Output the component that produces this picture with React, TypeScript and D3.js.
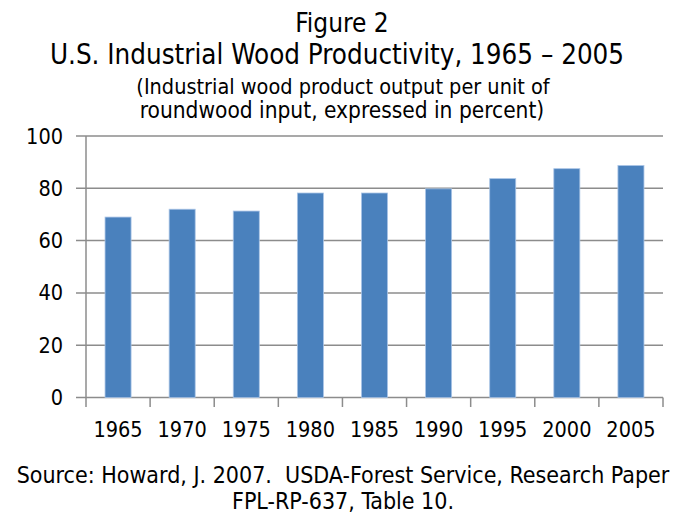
import React from "react";
import * as d3 from "d3";

const years = ["1965", "1970", "1975", "1980", "1985", "1990", "1995", "2000", "2005"];
const productivity = [69, 72, 71.3, 78.2, 78.2, 79.8, 83.7, 87.5, 88.7];
const yTicks = [0, 20, 40, 60, 80, 100];
const titleLines = ["Figure 2", "U.S. Industrial Wood Productivity, 1965 \u2013 2005"];
const subtitleLines = ["(Industrial wood product output per unit of", "roundwood input, expressed in percent)"];
const sourceLines = ["Source: Howard, J. 2007.\u00a0 USDA-Forest Service, Research Paper", "FPL-RP-637, Table 10."];

const W = 689;
const H = 514;
const FONT = "Tahoma, 'DejaVu Sans Condensed', 'DejaVu Sans', sans-serif";

export default function App() {
  const left = 86;
  const right = 663;
  const top = 136;
  const bottom = 397.5;
  const x = d3.scaleBand<string>().domain(years).range([left, right]).paddingInner(0.594).paddingOuter(0.297);
  const y = d3.scaleLinear().domain([0, 100]).range([bottom, top]);
  const step = (right - left) / years.length;
  const grid = "#8c8c8c";

  return (
    <div style={{ position: "absolute", left: 0, top: 0 }}>
      <svg width={W} height={H} style={{ display: "block", background: "#fff" }} fontFamily={FONT}>
        <text x={342} y={32} textAnchor="middle" fontSize={26} fill="#000">{titleLines[0]}</text>
        <text x={337} y={64} textAnchor="middle" fontSize={27.5} fill="#000">{titleLines[1]}</text>
        <text x={343} y={94} textAnchor="middle" fontSize={21.5} fill="#000">{subtitleLines[0]}</text>
        <text x={342} y={118} textAnchor="middle" fontSize={22.5} fill="#000">{subtitleLines[1]}</text>

        {yTicks.map((t) => (
          <g key={t}>
            <line x1={left - 10} x2={right} y1={y(t)} y2={y(t)} stroke={grid} strokeWidth={1.5} />
            <text x={63} y={y(t) + 7.5} textAnchor="end" fontSize={21.5} fill="#000">{t}</text>
          </g>
        ))}
        <line x1={left} x2={left} y1={top} y2={bottom + 9.5} stroke={grid} strokeWidth={1.5} />
        {years.map((yr, i) => (
          <line key={"t" + yr} x1={left + step * (i + 1)} x2={left + step * (i + 1)} y1={bottom} y2={bottom + 9.5} stroke={grid} strokeWidth={1.5} />
        ))}

        {years.map((yr, i) => (
          <rect
            key={yr}
            x={x(yr)}
            y={y(productivity[i])}
            width={x.bandwidth()}
            height={bottom - y(productivity[i])}
            fill="#4a81bd"
            stroke="#a9c4e6"
            strokeWidth={0.8}
          />
        ))}

        {years.map((yr) => (
          <text key={"l" + yr} x={(x(yr) as number) + x.bandwidth() / 2} y={437} textAnchor="middle" fontSize={21.5} fill="#000">{yr}</text>
        ))}

        <text x={343} y={483} textAnchor="middle" fontSize={23} fill="#000">{sourceLines[0]}</text>
        <text x={343} y={509} textAnchor="middle" fontSize={23} fill="#000">{sourceLines[1]}</text>
      </svg>
    </div>
  );
}
